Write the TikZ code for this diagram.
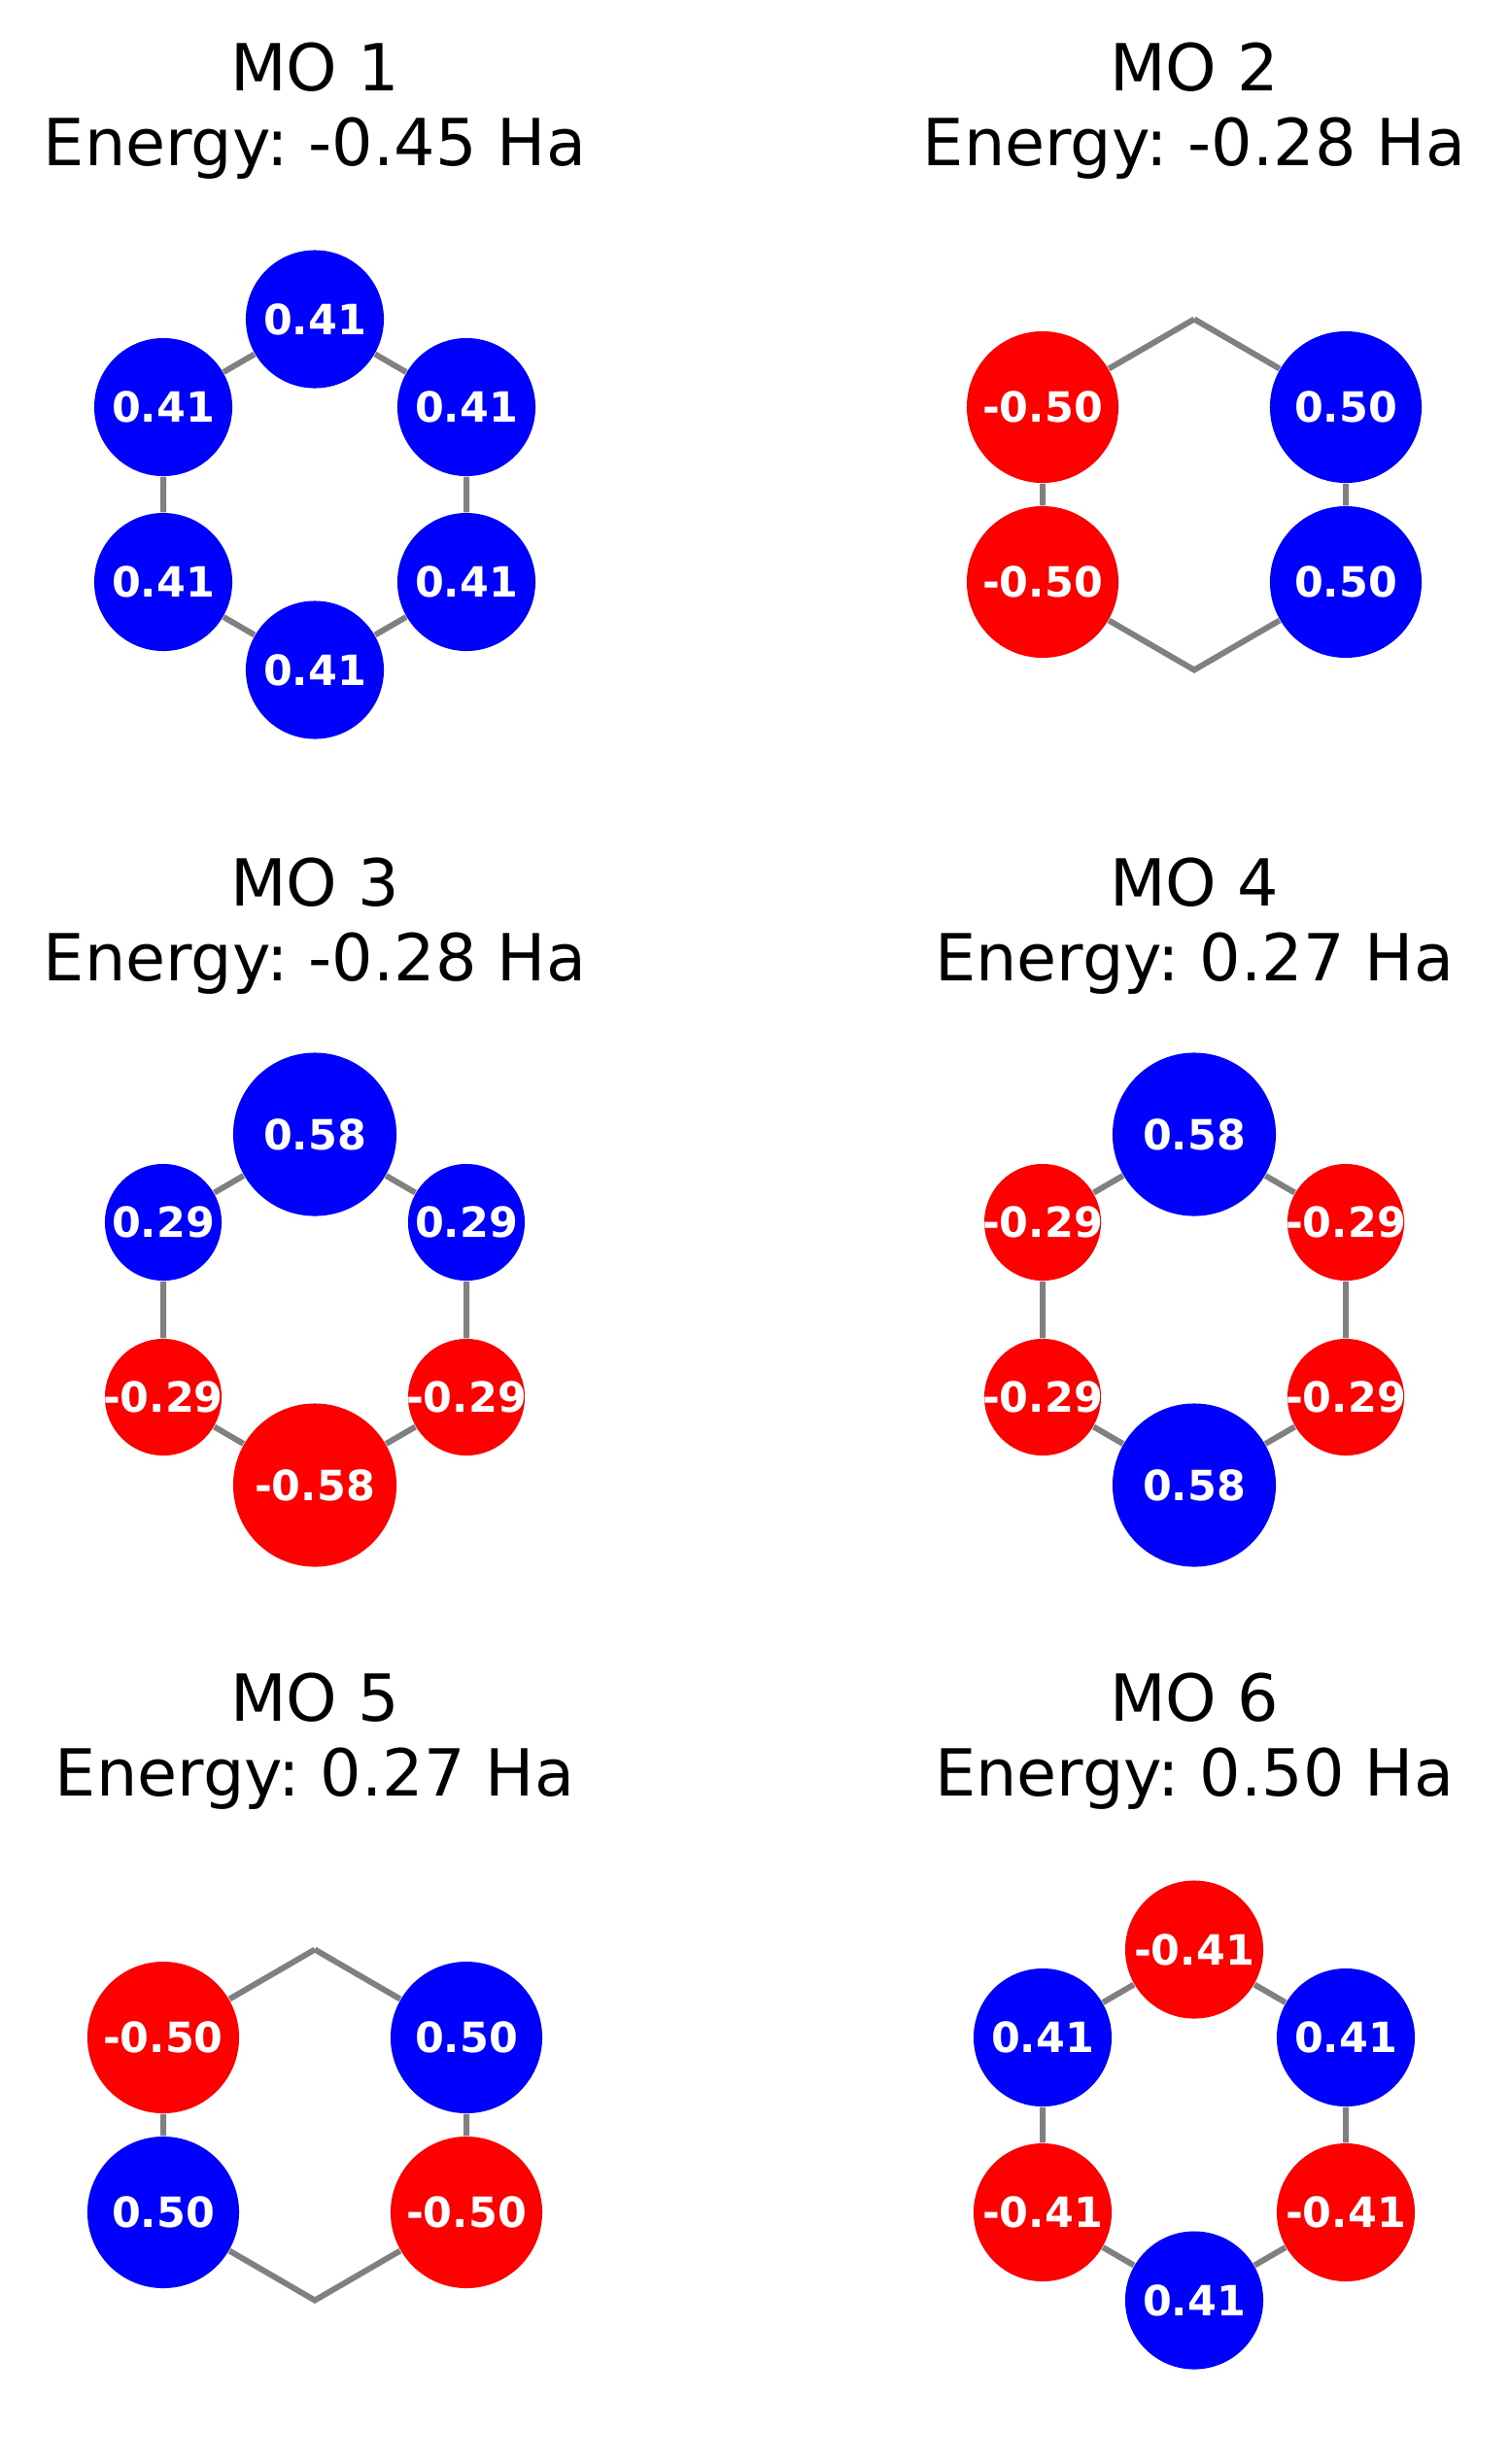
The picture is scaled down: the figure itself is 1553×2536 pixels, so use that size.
\documentclass[tikz,border=0pt]{standalone}
\usepackage{fontspec}
\setmainfont{DejaVu Sans}
\begin{document}
\frenchspacing
\begin{tikzpicture}[x=0.01cm, y=-0.01cm,
    every node/.style={inner sep=0pt},
    title/.style={anchor=base, font=\fontsize{19}{23}\selectfont},
    orbtext/.style={text=white, font=\fontsize{12.2}{14}\selectfont\bfseries},
    orb/.style={circle, label={[orbtext]center:#1}},
    plusorb/.style={orb=#1, fill=blue},
    minusorb/.style={orb=#1, fill=red},
    c29/.style={minimum size=1.2cm},
    c41/.style={minimum size=1.42cm},
    c50/.style={minimum size=1.56cm},
    c58/.style={minimum size=1.68cm},
    bond/.style={draw=gray, line width=0.06cm}]
    \useasboundingbox (0,0) rectangle (1553,2536);

    % MO 1
    \begin{scope}[shift={(324,509)}]
        \node[title] (m1-ta) at (0,-416) {MO 1};
        \node[title] (m1-tb) at (0,-339) {Energy: -0.45 Ha};
        \node[plusorb=0.41, c41] (m1-t) at (0,-180.5) {};
        \node[plusorb=0.41, c41] (m1-ul) at (-156,-90) {};
        \node[plusorb=0.41, c41] (m1-ur) at (156,-90) {};
        \node[plusorb=0.41, c41] (m1-ll) at (-156,90) {};
        \node[plusorb=0.41, c41] (m1-lr) at (156,90) {};
        \node[plusorb=0.41, c41] (m1-b) at (0,180.5) {};
    \end{scope}

    % MO 2
    \begin{scope}[shift={(1229,509)}]
        \node[title] (m2-ta) at (0,-416) {MO 2};
        \node[title] (m2-tb) at (0,-339) {Energy: -0.28 Ha};
        \coordinate (m2-t) at (0,-180.5);
        \node[minusorb=-0.50, c50] (m2-ul) at (-156,-90) {};
        \node[plusorb=0.50, c50] (m2-ur) at (156,-90) {};
        \node[minusorb=-0.50, c50] (m2-ll) at (-156,90) {};
        \node[plusorb=0.50, c50] (m2-lr) at (156,90) {};
        \coordinate (m2-b) at (0,180.5);
    \end{scope}

    % MO 3
    \begin{scope}[shift={(324,1348)}]
        \node[title] (m3-ta) at (0,-416) {MO 3};
        \node[title] (m3-tb) at (0,-339) {Energy: -0.28 Ha};
        \node[plusorb=0.58, c58] (m3-t) at (0,-180.5) {};
        \node[plusorb=0.29, c29] (m3-ul) at (-156,-90) {};
        \node[plusorb=0.29, c29] (m3-ur) at (156,-90) {};
        \node[minusorb=-0.29, c29] (m3-ll) at (-156,90) {};
        \node[minusorb=-0.29, c29] (m3-lr) at (156,90) {};
        \node[minusorb=-0.58, c58] (m3-b) at (0,180.5) {};
    \end{scope}

    % MO 4
    \begin{scope}[shift={(1229,1348)}]
        \node[title] (m4-ta) at (0,-416) {MO 4};
        \node[title] (m4-tb) at (0,-339) {Energy: 0.27 Ha};
        \node[plusorb=0.58, c58] (m4-t) at (0,-180.5) {};
        \node[minusorb=-0.29, c29] (m4-ul) at (-156,-90) {};
        \node[minusorb=-0.29, c29] (m4-ur) at (156,-90) {};
        \node[minusorb=-0.29, c29] (m4-ll) at (-156,90) {};
        \node[minusorb=-0.29, c29] (m4-lr) at (156,90) {};
        \node[plusorb=0.58, c58] (m4-b) at (0,180.5) {};
    \end{scope}

    % MO 5
    \begin{scope}[shift={(324,2187)}]
        \node[title] (m5-ta) at (0,-416) {MO 5};
        \node[title] (m5-tb) at (0,-339) {Energy: 0.27 Ha};
        \coordinate (m5-t) at (0,-180.5);
        \node[minusorb=-0.50, c50] (m5-ul) at (-156,-90) {};
        \node[plusorb=0.50, c50] (m5-ur) at (156,-90) {};
        \node[plusorb=0.50, c50] (m5-ll) at (-156,90) {};
        \node[minusorb=-0.50, c50] (m5-lr) at (156,90) {};
        \coordinate (m5-b) at (0,180.5);
    \end{scope}

    % MO 6
    \begin{scope}[shift={(1229,2187)}]
        \node[title] (m6-ta) at (0,-416) {MO 6};
        \node[title] (m6-tb) at (0,-339) {Energy: 0.50 Ha};
        \node[minusorb=-0.41, c41] (m6-t) at (0,-180.5) {};
        \node[plusorb=0.41, c41] (m6-ul) at (-156,-90) {};
        \node[plusorb=0.41, c41] (m6-ur) at (156,-90) {};
        \node[minusorb=-0.41, c41] (m6-ll) at (-156,90) {};
        \node[minusorb=-0.41, c41] (m6-lr) at (156,90) {};
        \node[plusorb=0.41, c41] (m6-b) at (0,180.5) {};
    \end{scope}

    % ring bonds
    \foreach \p in {1,...,6}
        \draw[bond] (m\p-t) -- (m\p-ur) -- (m\p-lr) -- (m\p-b) -- (m\p-ll) -- (m\p-ul) -- (m\p-t);
\end{tikzpicture}
\end{document}
